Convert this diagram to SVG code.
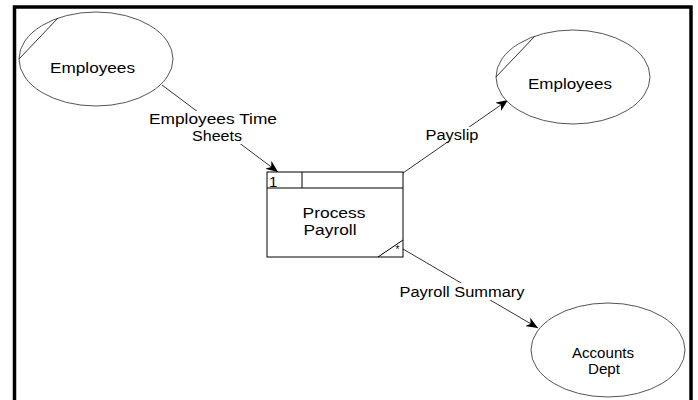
<svg xmlns="http://www.w3.org/2000/svg" width="698" height="400" viewBox="0 0 698 400">
<style>
text{font-family:"Liberation Sans",Arial,sans-serif;font-size:14px;fill:#000}
.ent{fill:#fff;stroke:#555;stroke-width:1}
.chord{stroke:#333;stroke-width:1;fill:none}
.flow{stroke:#333;stroke-width:1;fill:none;marker-end:url(#arr)}
.lbl{fill:#fff;stroke:none}
.proc{fill:#fff;stroke:#000;stroke-width:1}
</style>
<defs>
<marker id="arr" markerUnits="userSpaceOnUse" markerWidth="12" markerHeight="10" refX="12" refY="5" orient="auto">
<path d="M0,0 L12,5 L0,10 L3.5,5 z" fill="#000"/>
</marker>
</defs>
<rect x="0" y="0" width="698" height="400" fill="#fff"/>
<rect x="14.5" y="7" width="676.5" height="420" fill="none" stroke="#000" stroke-width="3.5"/>

<g id="connectors">
<g id="flow-timesheets">
<line class="flow" x1="162" y1="85" x2="278" y2="172"/>
<rect class="lbl" x="147" y="111" width="132" height="33"/>
<text x="213" y="124" text-anchor="middle" textLength="128" lengthAdjust="spacingAndGlyphs">Employees Time</text>
<text x="217" y="141" text-anchor="middle" textLength="50" lengthAdjust="spacingAndGlyphs">Sheets</text>
</g>
<g id="flow-payslip">
<line class="flow" x1="403" y1="173" x2="508" y2="100"/>
<rect class="lbl" x="423" y="127" width="57" height="16"/>
<text x="452" y="140" text-anchor="middle" textLength="53" lengthAdjust="spacingAndGlyphs">Payslip</text>
</g>
<g id="flow-summary">
<line class="flow" x1="403" y1="249" x2="538" y2="328"/>
<rect class="lbl" x="398" y="283" width="129" height="17"/>
<text x="462" y="297" text-anchor="middle" textLength="125" lengthAdjust="spacingAndGlyphs">Payroll Summary</text>
</g>
</g>

<g id="employees-source">
<ellipse class="ent" cx="96" cy="59" rx="77" ry="47"/>
<line class="chord" x1="19" y1="59" x2="58" y2="18"/>
<text x="92.5" y="73" text-anchor="middle" textLength="85" lengthAdjust="spacingAndGlyphs">Employees</text>
</g>

<g id="employees-sink">
<ellipse class="ent" cx="573" cy="77" rx="77" ry="47"/>
<line class="chord" x1="496" y1="77" x2="535" y2="36"/>
<text x="570" y="89" text-anchor="middle" textLength="84" lengthAdjust="spacingAndGlyphs">Employees</text>
</g>

<g id="accounts-dept">
<ellipse class="ent" cx="608" cy="350" rx="77" ry="47"/>
<text x="603" y="358" text-anchor="middle" textLength="62" lengthAdjust="spacingAndGlyphs">Accounts</text>
<text x="604" y="374" text-anchor="middle" textLength="32" lengthAdjust="spacingAndGlyphs">Dept</text>
</g>

<g id="process-payroll">
<rect class="proc" x="267" y="172" width="136" height="85"/>
<line class="proc" x1="267" y1="188" x2="403" y2="188"/>
<line class="proc" x1="302" y1="172" x2="302" y2="188"/>
<line class="proc" x1="378" y1="257" x2="403" y2="240"/>
<text x="269" y="186.5" style="font-size:15px">1</text>
<text x="397.5" y="253" text-anchor="middle" style="font-size:10px">*</text>
<text x="334" y="218" text-anchor="middle" textLength="63" lengthAdjust="spacingAndGlyphs">Process</text>
<text x="330" y="235" text-anchor="middle" textLength="53" lengthAdjust="spacingAndGlyphs">Payroll</text>
</g>
</svg>
